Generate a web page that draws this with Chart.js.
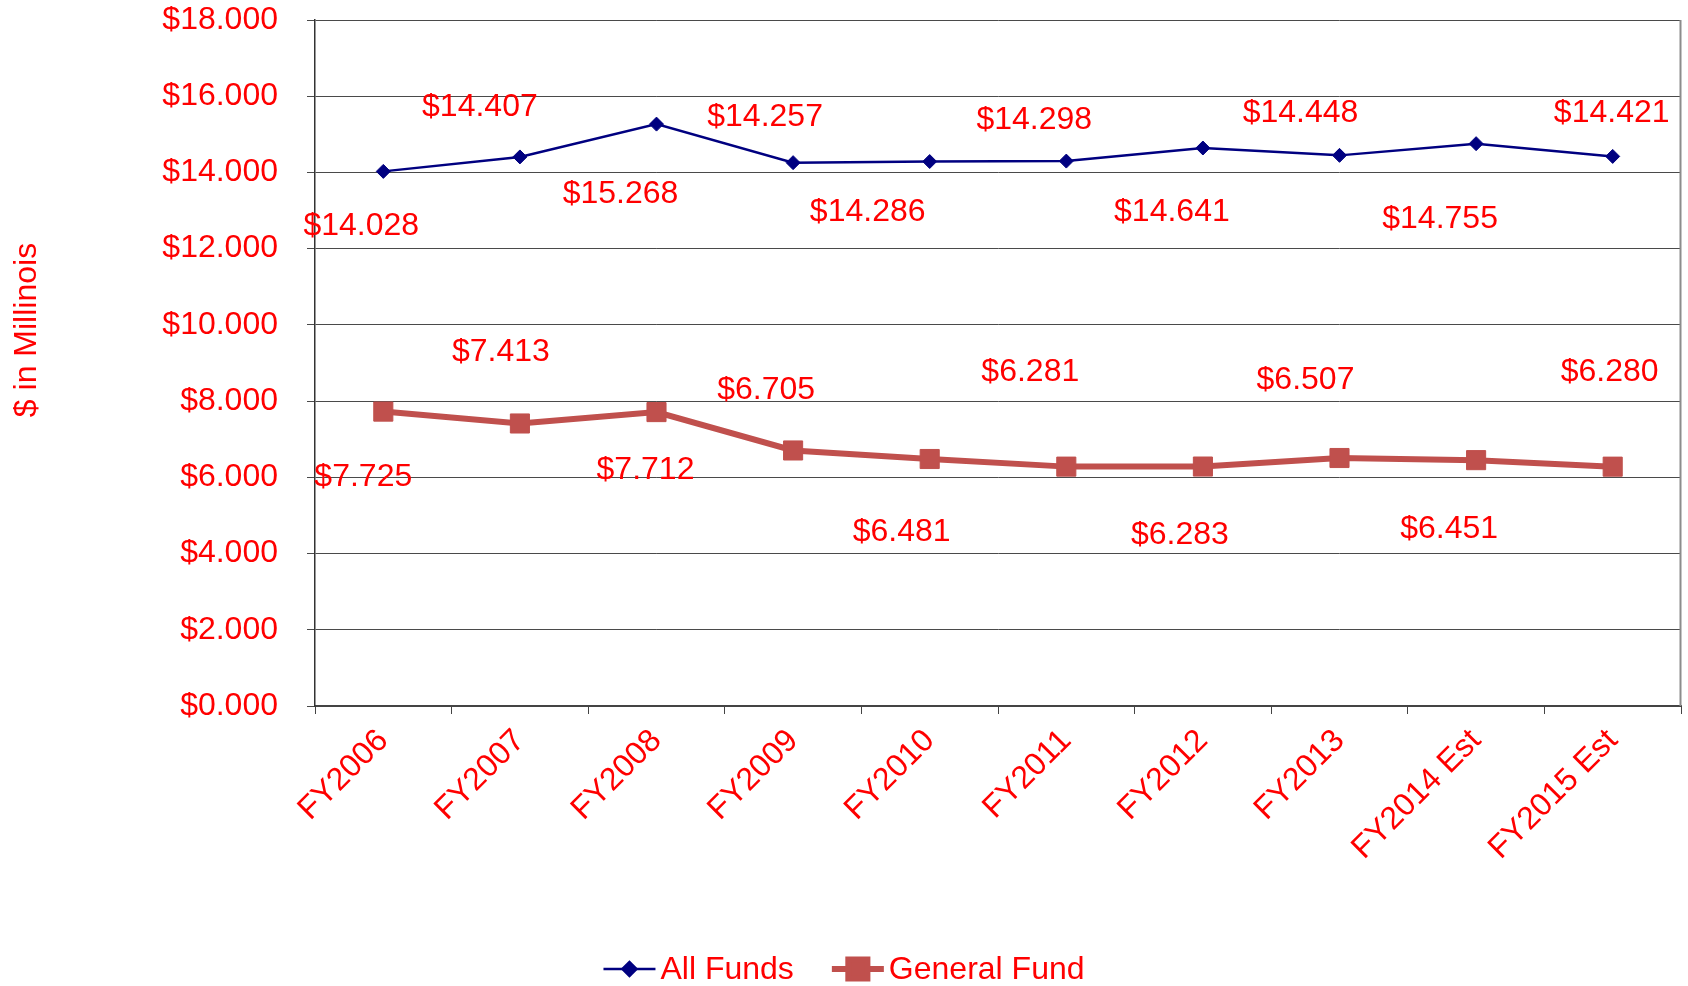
<!DOCTYPE html>
<html>
<head>
<meta charset="utf-8">
<script src="https://cdn.jsdelivr.net/npm/chart.js@4/dist/chart.umd.min.js"></script>
<style>
html,body{margin:0;padding:0;background:#ffffff;}
#wrap{width:1688px;height:986px;position:relative;}
</style>
</head>
<body>
<div id="wrap"><canvas id="c" width="1688" height="986"></canvas></div>
<script>
// ---- data ----
const categories = ["FY2006","FY2007","FY2008","FY2009","FY2010","FY2011","FY2012","FY2013","FY2014 Est","FY2015 Est"];
const allFunds = [14.028, 14.407, 15.268, 14.257, 14.286, 14.298, 14.641, 14.448, 14.755, 14.421];
const generalFund = [7.725, 7.413, 7.712, 6.705, 6.481, 6.281, 6.283, 6.507, 6.451, 6.280];
const seriesNames = ["All Funds", "General Fund"];
const yAxisTitle = "$ in Millinois";
const yMin = 0, yMax = 18, yStep = 2;

// ---- label placement (offsets from each point, in px) ----
const allFundsLabelDX = [-22,-40,-36,-28,-62,-32,-31,-39,-36,-1];
const allFundsLabelDY = [55,-50,70,-45,51,-41,64,-42,76,-43];
const generalLabelDX = [-20,-19,-11,-27,-28,-36,-23,-34,-27,-3];
const generalLabelDY = [66,-71,58,-60,73,-94,69,-78,69,-94];

const FONT_FAMILY = "'Liberation Sans', Arial, sans-serif";
const FONT_SIZE = 32;
const RED = '#ff0000';
const fmt = v => '$' + Number(v).toFixed(3);

const dataLabelPlugin = {
  id: 'dataLabels',
  afterDatasetsDraw(chart) {
    const ctx = chart.ctx;
    const offs = [[allFundsLabelDX, allFundsLabelDY],[generalLabelDX, generalLabelDY]];
    ctx.save();
    ctx.font = FONT_SIZE + 'px ' + FONT_FAMILY;
    ctx.fillStyle = RED;
    ctx.textAlign = 'center';
    ctx.textBaseline = 'middle';
    chart.data.datasets.forEach((ds, di) => {
      const meta = chart.getDatasetMeta(di);
      meta.data.forEach((pt, i) => {
        ctx.fillText(fmt(ds.data[i]), pt.x + offs[di][0][i], pt.y + offs[di][1][i]);
      });
    });
    ctx.restore();
  }
};

const framePlugin = {
  id: 'frame',
  afterDraw(chart) {
    const ctx = chart.ctx, a = chart.chartArea;
    ctx.save();
    // right border
    ctx.strokeStyle = '#8c8c8c';
    ctx.lineWidth = 2;
    ctx.beginPath();
    ctx.moveTo(a.right - 0.5, a.top);
    ctx.lineTo(a.right - 0.5, a.bottom);
    ctx.stroke();
    // y-axis title
    ctx.font = FONT_SIZE + 'px ' + FONT_FAMILY;
    ctx.fillStyle = RED;
    ctx.textAlign = 'center';
    ctx.textBaseline = 'middle';
    ctx.translate(27, 330);
    ctx.rotate(-Math.PI / 2);
    ctx.fillText(yAxisTitle, 0, 0);
    ctx.restore();

    // legend
    ctx.save();
    ctx.font = FONT_SIZE + 'px ' + FONT_FAMILY;
    const markerW = 52, textGap = 5, itemGap = 38;
    const items = chart.data.datasets.map(ds => ({ds, w: markerW + textGap + ctx.measureText(ds.label).width}));
    const total = items.reduce((s, it) => s + it.w, 0) + itemGap * (items.length - 1);
    let x = (chart.width - total) / 2;
    const y = 969;
    items.forEach(it => {
      const ds = it.ds;
      ctx.strokeStyle = ds.borderColor;
      ctx.lineWidth = ds.borderWidth;
      ctx.beginPath();
      ctx.moveTo(x, y);
      ctx.lineTo(x + markerW, y);
      ctx.stroke();
      ctx.fillStyle = ds.pointBackgroundColor;
      ctx.strokeStyle = ds.pointBorderColor;
      Chart.helpers.drawPoint(ctx, {pointStyle: ds.pointStyle, radius: ds.legendRadius, rotation: 0, borderWidth: 1}, x + markerW / 2, y);
      ctx.fillStyle = RED;
      ctx.textAlign = 'left';
      ctx.textBaseline = 'middle';
      ctx.fillText(ds.label, x + markerW + textGap, y + 1);
      x += it.w + itemGap;
    });
    ctx.restore();
  }
};

new Chart(document.getElementById('c'), {
  type: 'line',
  data: {
    labels: categories,
    datasets: [
      {
        label: seriesNames[0],
        data: allFunds,
        borderColor: '#000080',
        borderWidth: 2.5,
        pointStyle: 'rectRot',
        pointRadius: 7,
        legendRadius: 7,
        pointBackgroundColor: '#000080',
        pointBorderColor: '#000080',
        pointBorderWidth: 1,
        tension: 0,
        fill: false
      },
      {
        label: seriesNames[1],
        data: generalFund,
        borderColor: '#c0504d',
        borderWidth: 6,
        pointStyle: 'rect',
        pointRadius: 13.5,
        legendRadius: 13.5,
        pointBackgroundColor: '#c0504d',
        pointBorderColor: '#c0504d',
        pointBorderWidth: 1,
        tension: 0,
        fill: false
      }
    ]
  },
  options: {
    responsive: false,
    devicePixelRatio: 1,
    animation: false,
    layout: { autoPadding: false, padding: { top: 20, right: 7, left: 0, bottom: 0 } },
    plugins: { legend: { display: false }, tooltip: { enabled: false } },
    scales: {
      x: {
        offset: true,
        grid: { offset: true, drawOnChartArea: false, tickLength: 8, color: '#444444', lineWidth: 1 },
        border: { color: '#444444', width: 2 },
        ticks: {
          color: RED,
          font: { family: FONT_FAMILY, size: FONT_SIZE },
          minRotation: 45, maxRotation: 45, padding: 8, autoSkip: false
        },
        afterFit: s => { s.height = 280; s.paddingLeft = 0; s.paddingRight = 0; }
      },
      y: {
        min: yMin, max: yMax,
        ticks: {
          stepSize: yStep,
          color: RED,
          font: { family: FONT_FAMILY, size: FONT_SIZE },
          padding: 29,
          callback: v => fmt(v)
        },
        grid: { color: '#4a4a4a', lineWidth: 1, tickLength: 8 },
        border: { color: '#333333', width: 1.5 },
        afterFit: s => { s.width = 315; s.paddingTop = 0; s.paddingBottom = 0; }
      }
    }
  },
  plugins: [dataLabelPlugin, framePlugin]
});
</script>
</body>
</html>
